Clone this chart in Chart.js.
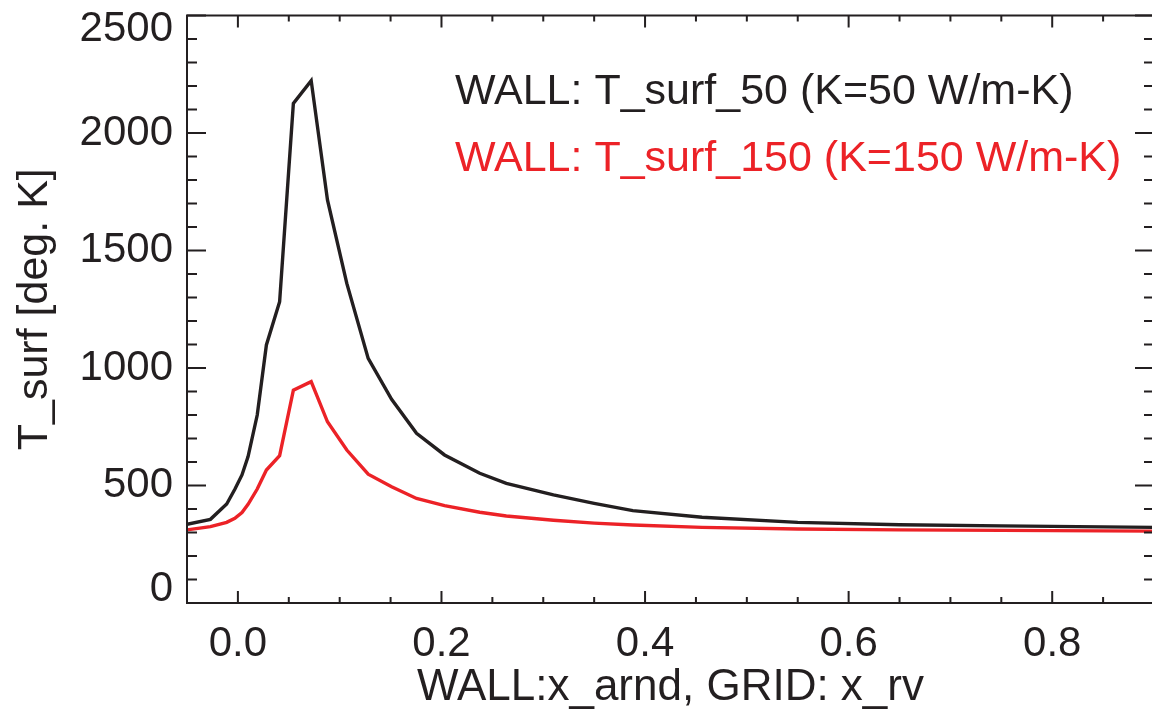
<!DOCTYPE html>
<html>
<head>
<meta charset="utf-8">
<script src="https://cdn.jsdelivr.net/npm/chart.js@4/dist/chart.umd.min.js"></script>
<style>
  html, body { margin: 0; padding: 0; background: #ffffff; overflow: hidden; }
  #wrap { position: relative; width: 1160px; height: 718px; }
</style>
</head>
<body>
<div id="wrap"><canvas id="c"></canvas></div>
<script>
// Wall position along the surface (GRID: x_rv)
const xPos = [-0.05, -0.027, -0.011, -0.003, 0.004, 0.010, 0.019, 0.028, 0.041, 0.0545,
              0.072, 0.088, 0.107, 0.128, 0.151, 0.1755, 0.203, 0.2376, 0.2637, 0.31,
              0.35, 0.388, 0.456, 0.55, 0.65, 0.75, 0.85, 0.9];

// Surface temperature [K], wall conductivity 50 W/m-K
const tSurf50 = [335, 356, 421, 484, 545, 623, 800, 1098, 1282, 2126,
                 2223, 1715, 1360, 1041, 867, 722, 630, 552, 509, 460,
                 424, 393, 365, 343, 333, 328, 324, 322];

// Surface temperature [K], wall conductivity 150 W/m-K
const tSurf150 = [311, 325, 343, 360, 385, 420, 485, 566, 627, 906,
                  942, 771, 651, 548, 495, 445, 414, 386, 370, 352,
                  340, 332, 322, 315, 311, 309, 307, 306];

const seriesLabels = ['WALL: T_surf_50 (K=50 W/m-K)', 'WALL: T_surf_150 (K=150 W/m-K)'];
const seriesColors = ['#231f20', '#ec2227'];

const xTickValues = [0.0, 0.2, 0.4, 0.6, 0.8];
const yTickValues = [0, 500, 1000, 1500, 2000, 2500];
const xMinorStep = 0.05;
const yMinorStep = 100;

const INK = '#231f20';
const FAMILY = '"Liberation Sans", Arial, Helvetica, sans-serif';
const FONT = { family: FAMILY, size: 42 };

function toPoints(xs, ys) {
  return xs.map((x, i) => ({ x: x, y: ys[i] }));
}

// IDL-style closed frame with inward ticks on all four sides
const framePlugin = {
  id: 'frame',
  afterDatasetsDraw(chart) {
    const { ctx, chartArea: a, scales } = chart;
    const xs = scales.x, ys = scales.y;
    ctx.save();
    ctx.strokeStyle = INK;
    ctx.lineWidth = 2;
    ctx.beginPath();
    ctx.rect(a.left, a.top, a.right - a.left, a.bottom - a.top);
    ctx.stroke();

    ctx.beginPath();
    const nx = Math.round((xs.max - xs.min) / xMinorStep);
    for (let i = 0; i <= nx; i++) {
      const v = xs.min + i * xMinorStep;
      const major = xTickValues.some(t => Math.abs(t - v) < 1e-6);
      const len = major ? 12 : 6;
      const px = xs.getPixelForValue(v);
      ctx.moveTo(px, a.bottom); ctx.lineTo(px, a.bottom - len);
      ctx.moveTo(px, a.top); ctx.lineTo(px, a.top + len);
    }
    const ny = Math.round((ys.max - ys.min) / yMinorStep);
    for (let i = 0; i <= ny; i++) {
      const v = ys.min + i * yMinorStep;
      const major = yTickValues.includes(v);
      const len = major ? 19 : 10;
      const py = ys.getPixelForValue(v);
      ctx.moveTo(a.left, py); ctx.lineTo(a.left + len, py);
      ctx.moveTo(a.right, py); ctx.lineTo(a.right - len, py);
    }
    ctx.stroke();

    // y tick labels, kept inside the vertical span of the frame
    ctx.fillStyle = INK;
    ctx.font = FONT.size + 'px ' + FAMILY;
    ctx.textAlign = 'right';
    ctx.textBaseline = 'middle';
    const half = 14;
    yTickValues.forEach(v => {
      let py = ys.getPixelForValue(v);
      py = Math.min(Math.max(py, a.top + half), a.bottom - half);
      ctx.fillText(String(v), a.left - 14, py);
    });
    ctx.restore();
  }
};

// Text legend in the upper part of the plot, one coloured line per series
const textLegendPlugin = {
  id: 'textLegend',
  afterDraw(chart) {
    const { ctx, chartArea: a } = chart;
    ctx.save();
    ctx.font = '43px ' + FAMILY;
    ctx.textAlign = 'left';
    ctx.textBaseline = 'alphabetic';
    chart.data.datasets.forEach((ds, i) => {
      ctx.fillStyle = ds.borderColor;
      ctx.fillText(ds.label, a.left + 268, a.top + 88 + i * 67);
    });
    ctx.restore();
  }
};

new Chart(document.getElementById('c'), {
  type: 'line',
  data: {
    datasets: [
      { label: seriesLabels[0], data: toPoints(xPos, tSurf50), borderColor: seriesColors[0],
        borderWidth: 3.4, pointRadius: 0, tension: 0, fill: false },
      { label: seriesLabels[1], data: toPoints(xPos, tSurf150), borderColor: seriesColors[1],
        borderWidth: 3.4, pointRadius: 0, tension: 0, fill: false }
    ]
  },
  options: {
    responsive: true,
    maintainAspectRatio: false,
    devicePixelRatio: 1,
    animation: false,
    layout: { padding: { top: 15.5, right: 6, left: 0, bottom: 0 } },
    plugins: { legend: { display: false }, tooltip: { enabled: false }, title: { display: false } },
    scales: {
      x: {
        type: 'linear', min: -0.05, max: 0.9,
        grid: { display: false, drawTicks: false },
        border: { display: false },
        afterBuildTicks: s => { s.ticks = xTickValues.map(v => ({ value: v })); },
        ticks: { font: FONT, color: INK, padding: 16, maxRotation: 0, autoSkip: false,
                 callback: v => Number(v).toFixed(1) },
        title: { display: true, text: 'WALL:x_arnd, GRID: x_rv', font: { family: FAMILY, size: 44 },
                 color: INK, padding: { top: 0, bottom: 4 } },
        afterFit: s => { s.height = 115; s.paddingLeft = 0; s.paddingRight = 0; }
      },
      y: {
        type: 'linear', min: 0, max: 2500,
        grid: { display: false, drawTicks: false },
        border: { display: false },
        afterBuildTicks: s => { s.ticks = yTickValues.map(v => ({ value: v })); },
        ticks: { display: false },
        title: { display: true, text: 'T_surf [deg. K]', font: { family: FAMILY, size: 43 },
                 color: INK, padding: { top: 9, bottom: 0 } },
        afterFit: s => { s.width = 187; s.paddingTop = 0; s.paddingBottom = 0; }
      }
    }
  },
  plugins: [framePlugin, textLegendPlugin]
});
</script>
</body>
</html>
